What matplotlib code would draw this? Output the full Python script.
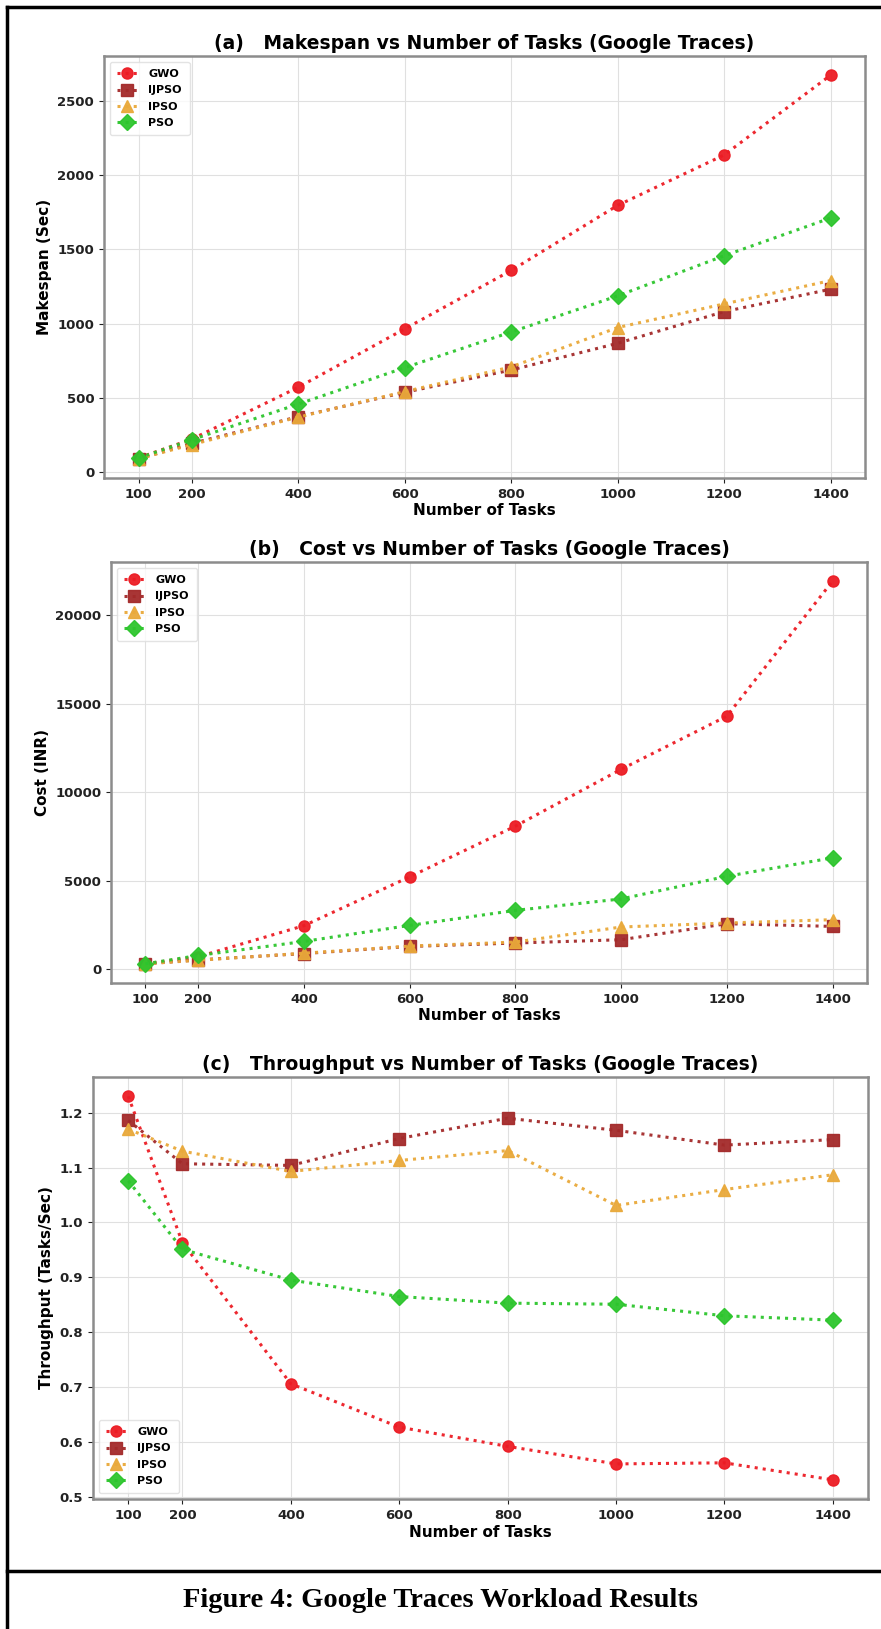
import matplotlib
matplotlib.use("Agg")
import matplotlib.pyplot as plt
from matplotlib.lines import Line2D

plt.rcParams['font.family'] = ['DejaVu Sans']
plt.rcParams['font.weight'] = 'bold'
plt.rcParams['axes.labelweight'] = 'bold'
plt.rcParams['axes.titleweight'] = 'bold'

tasks = [100, 200, 400, 600, 800, 1000, 1200, 1400]
algos = ['GWO', 'IJPSO', 'IPSO', 'PSO']

# makespan (sec)
makespan_gwo = [96, 222, 571, 964, 1357, 1795, 2134, 2671]
makespan_ijpso = [90, 193, 373, 537, 687, 867, 1080, 1231]
makespan_ipso = [90, 185, 370, 542, 708, 973, 1132, 1289]
makespan_pso = [95, 218, 458, 703, 943, 1186, 1456, 1710]

# cost (INR)
cost_gwo = [300, 700, 2454, 5210, 8075, 11285, 14287, 21914]
cost_ijpso = [300, 520, 880, 1280, 1472, 1660, 2565, 2412]
cost_ipso = [300, 500, 900, 1300, 1530, 2378, 2604, 2792]
cost_pso = [300, 770, 1563, 2470, 3318, 3964, 5244, 6285]

# throughput (tasks/sec)
thr_gwo = [1.230, 0.963, 0.706, 0.627, 0.592, 0.560, 0.562, 0.531]
thr_ijpso = [1.186, 1.107, 1.104, 1.153, 1.190, 1.168, 1.141, 1.151]
thr_ipso = [1.170, 1.130, 1.093, 1.113, 1.131, 1.031, 1.060, 1.087]
thr_pso = [1.076, 0.951, 0.895, 0.865, 0.853, 0.851, 0.830, 0.822]

colors = ['#ec1c24', '#a32a2a', '#e9a93a', '#2dc52d']
markers = ['o', 's', '^', 'D']

fig = plt.figure(figsize=(8.81, 16.29), dpi=100)

panels = [
    ([0.118, 0.7066, 0.864, 0.259], '(a)   Makespan vs Number of Tasks (Google Traces)',
     'Makespan (Sec)', [makespan_gwo, makespan_ijpso, makespan_ipso, makespan_pso], 'upper left'),
    ([0.126, 0.3966, 0.858, 0.2584], '(b)   Cost vs Number of Tasks (Google Traces)',
     'Cost (INR)', [cost_gwo, cost_ijpso, cost_ipso, cost_pso], 'upper left'),
    ([0.1056, 0.0798, 0.8797, 0.259], '(c)   Throughput vs Number of Tasks (Google Traces)',
     'Throughput (Tasks/Sec)', [thr_gwo, thr_ijpso, thr_ipso, thr_pso], 'lower left'),
]

for rect, title, ylabel, series, loc in panels:
    ax = fig.add_axes(rect)
    for name, vals, c, m in zip(algos, series, colors, markers):
        ax.plot(tasks, vals, linestyle=':', linewidth=2.2, marker=m,
                markersize=8, color=c, label=name, alpha=0.95)
    ax.set_title(title, fontsize=13.5, pad=5)
    ax.set_xlabel('Number of Tasks', fontsize=11, labelpad=2)
    ax.set_ylabel(ylabel, fontsize=11)
    ax.set_xticks(tasks)
    ax.tick_params(labelsize=9.5, colors='#222222', length=3.5)
    ax.grid(True, color='#e0e0e0', linewidth=0.8)
    for sp in ax.spines.values():
        sp.set_color('#8c8c8c')
        sp.set_linewidth(1.8)
    ax.legend(loc=loc, fontsize=8, framealpha=0.8, edgecolor='#dddddd',
              handlelength=1.8, handletextpad=1.0, borderpad=0.7, labelspacing=0.55)

# outer frame and caption box
frame_kw = dict(color='black', linewidth=2.5, transform=fig.transFigure)
fig.add_artist(Line2D([0.008, 0.008], [0.0, 0.996], **frame_kw))
fig.add_artist(Line2D([0.008, 1.0], [0.996, 0.996], **frame_kw))
fig.add_artist(Line2D([0.008, 1.0], [0.0356, 0.0356], **frame_kw))

fig.text(0.5, 0.0175, 'Figure 4: Google Traces Workload Results', ha='center', va='center',
         fontsize=20.5, fontweight='bold', family=['Liberation Serif', 'DejaVu Serif'])

fig.savefig('out.png', dpi=100)
